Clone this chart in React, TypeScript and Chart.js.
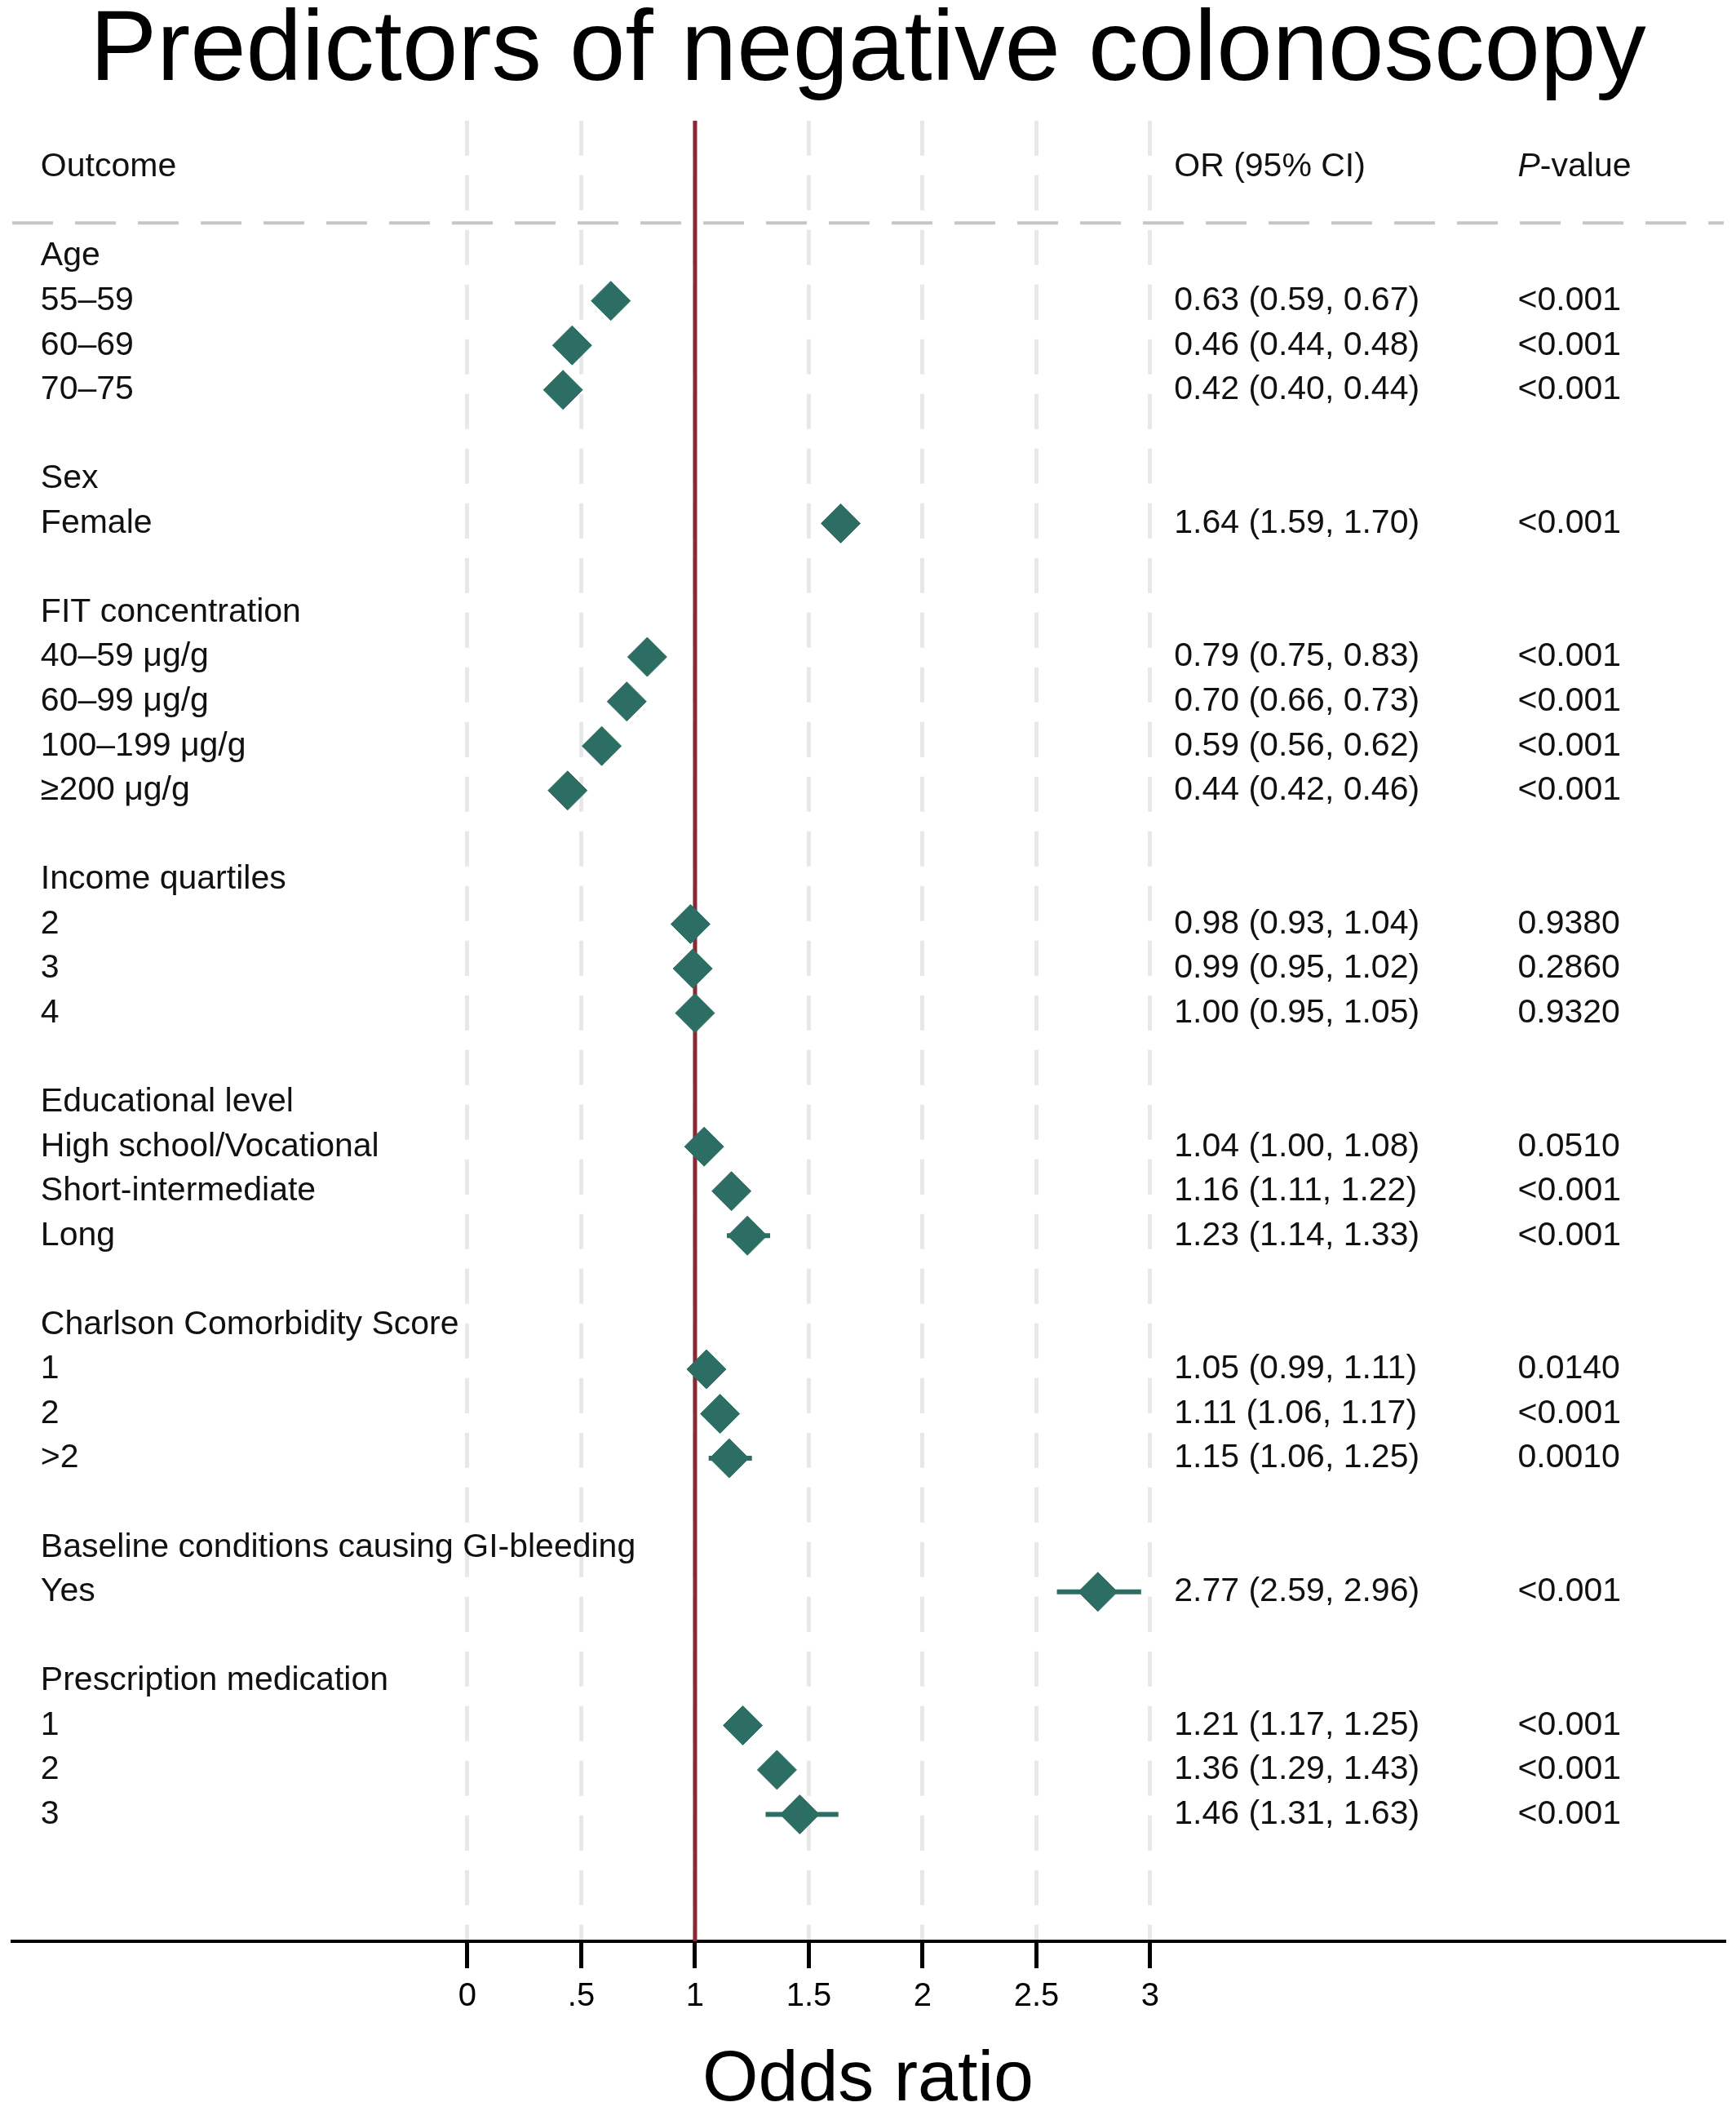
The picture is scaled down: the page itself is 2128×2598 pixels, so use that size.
import { useEffect, useRef } from 'react';
import { Chart, registerables } from 'chart.js';

Chart.register(...registerables);

// ---------- data ----------
const titleText = 'Predictors of negative colonoscopy';
const axisTitle = 'Odds ratio';
const xTicks = [0, 0.5, 1, 1.5, 2, 2.5, 3];
const xTickLabels = ['0', '.5', '1', '1.5', '2', '2.5', '3'];
const headerLabels = ['Outcome', 'OR (95% CI)', 'P-value'];
const referenceOR = 1;

const rowLabels = [
  'Age', '55–59', '60–69', '70–75', '',
  'Sex', 'Female', '',
  'FIT concentration', '40–59 μg/g', '60–99 μg/g', '100–199 μg/g', '≥200 μg/g', '',
  'Income quartiles', '2', '3', '4', '',
  'Educational level', 'High school/Vocational', 'Short-intermediate', 'Long', '',
  'Charlson Comorbidity Score', '1', '2', '>2', '',
  'Baseline conditions causing GI-bleeding', 'Yes', '',
  'Prescription medication', '1', '2', '3',
];
const oddsRatio = [
  null, 0.63, 0.46, 0.42, null,
  null, 1.64, null,
  null, 0.79, 0.70, 0.59, 0.44, null,
  null, 0.98, 0.99, 1.00, null,
  null, 1.04, 1.16, 1.23, null,
  null, 1.05, 1.11, 1.15, null,
  null, 2.77, null,
  null, 1.21, 1.36, 1.46,
];
const ciLower = [
  null, 0.59, 0.44, 0.40, null,
  null, 1.59, null,
  null, 0.75, 0.66, 0.56, 0.42, null,
  null, 0.93, 0.95, 0.95, null,
  null, 1.00, 1.11, 1.14, null,
  null, 0.99, 1.06, 1.06, null,
  null, 2.59, null,
  null, 1.17, 1.29, 1.31,
];
const ciUpper = [
  null, 0.67, 0.48, 0.44, null,
  null, 1.70, null,
  null, 0.83, 0.73, 0.62, 0.46, null,
  null, 1.04, 1.02, 1.05, null,
  null, 1.08, 1.22, 1.33, null,
  null, 1.11, 1.17, 1.25, null,
  null, 2.96, null,
  null, 1.25, 1.43, 1.63,
];
const pValues = [
  null, '<0.001', '<0.001', '<0.001', null,
  null, '<0.001', null,
  null, '<0.001', '<0.001', '<0.001', '<0.001', null,
  null, '0.9380', '0.2860', '0.9320', null,
  null, '0.0510', '<0.001', '<0.001', null,
  null, '0.0140', '<0.001', '0.0010', null,
  null, '<0.001', null,
  null, '<0.001', '<0.001', '<0.001',
];

// ---------- layout (not data) ----------
const FONT = '"Liberation Sans", Arial, Helvetica, sans-serif';
const X_MIN = -2;
const X_MAX = 5.52;
const Y_MIN = -1.05;
const Y_MAX = 39.85;
const HEADER_ROW = 0;
const DIVIDER_ROW = 1.25;
const FIRST_ROW = 2;
const COL_LABEL_X = -1.875;
const COL_OR_X = 3.105;
const COL_P_X = 4.615;
const TEAL = '#2C6E63';
const RED = '#8B2833';
const TEXT_SIZE = 41;

const fmt = (v: number) => v.toFixed(2);

const tablePlugin = {
  id: 'forestTable',
  afterDatasetsDraw(chart: any) {
    const { ctx } = chart;
    const x = chart.scales.x;
    const y = chart.scales.y;
    const normal = `${TEXT_SIZE}px ${FONT}`;
    ctx.save();
    ctx.fillStyle = '#111';
    ctx.textBaseline = 'middle';
    ctx.textAlign = 'left';
    ctx.font = normal;
    const hy = y.getPixelForValue(HEADER_ROW);
    ctx.fillText(headerLabels[0], x.getPixelForValue(COL_LABEL_X), hy);
    ctx.fillText(headerLabels[1], x.getPixelForValue(COL_OR_X), hy);
    const px = x.getPixelForValue(COL_P_X);
    const pHead = headerLabels[2];
    ctx.font = `italic ${TEXT_SIZE}px ${FONT}`;
    ctx.fillText(pHead.charAt(0), px, hy);
    const w = ctx.measureText(pHead.charAt(0)).width;
    ctx.font = normal;
    ctx.fillText(pHead.slice(1), px + w, hy);

    rowLabels.forEach((lab, i) => {
      const ry = y.getPixelForValue(FIRST_ROW + i);
      if (lab) ctx.fillText(lab, x.getPixelForValue(COL_LABEL_X), ry);
      const or = oddsRatio[i];
      const lo = ciLower[i];
      const hi = ciUpper[i];
      if (or !== null && lo !== null && hi !== null) {
        ctx.fillText(`${fmt(or)} (${fmt(lo)}, ${fmt(hi)})`, x.getPixelForValue(COL_OR_X), ry);
      }
      const p = pValues[i];
      if (p) ctx.fillText(p, px, ry);
    });
    ctx.restore();
  },
};

export default function App() {
  const canvasRef = useRef<HTMLCanvasElement | null>(null);

  useEffect(() => {
    if (!canvasRef.current) return;
    Chart.defaults.font.family = FONT;

    const points: { x: number; y: number }[] = [];
    const ciSets: any[] = [];
    oddsRatio.forEach((or, i) => {
      const lo = ciLower[i];
      const hi = ciUpper[i];
      if (or === null || lo === null || hi === null) return;
      points.push({ x: or, y: FIRST_ROW + i });
      ciSets.push({
        type: 'scatter',
        showLine: true,
        data: [
          { x: lo, y: FIRST_ROW + i },
          { x: hi, y: FIRST_ROW + i },
        ],
        borderColor: TEAL,
        borderWidth: 6,
        pointRadius: 0,
        order: 1,
      });
    });

    const chart = new Chart(canvasRef.current, {
      type: 'scatter',
      data: {
        datasets: [
          {
            type: 'scatter',
            data: points,
            pointStyle: 'rectRot',
            pointRadius: 24,
            pointBackgroundColor: TEAL,
            pointBorderColor: TEAL,
            pointBorderWidth: 1,
            order: 0,
          },
          ...ciSets,
          {
            type: 'scatter',
            showLine: true,
            data: [
              { x: referenceOR, y: Y_MIN },
              { x: referenceOR, y: Y_MAX },
            ],
            borderColor: RED,
            borderWidth: 5,
            pointRadius: 0,
            order: 2,
          },
          {
            type: 'scatter',
            showLine: true,
            data: [
              { x: X_MIN, y: DIVIDER_ROW },
              { x: X_MAX, y: DIVIDER_ROW },
            ],
            borderColor: '#c6c6c6',
            borderWidth: 4,
            borderDash: [50, 27],
            pointRadius: 0,
            order: 3,
          },
        ] as any,
      },
      options: {
        animation: false,
        responsive: true,
        maintainAspectRatio: false,
        layout: { autoPadding: false, padding: { left: 15, right: 15, top: 0, bottom: 0 } },
        plugins: {
          legend: { display: false },
          tooltip: { enabled: false },
          title: {
            display: true,
            text: titleText,
            color: '#000',
            font: { family: FONT, size: 123, weight: 'normal', lineHeight: 0.9 },
            padding: { top: 9, bottom: 28 },
          },
        },
        scales: {
          x: {
            type: 'linear',
            min: X_MIN,
            max: X_MAX,
            offset: false,
            afterBuildTicks: (axis: any) => {
              axis.ticks = xTicks.map((v) => ({ value: v }));
            },
            ticks: {
              color: '#000',
              font: { family: FONT, size: 40, lineHeight: 1.1 },
              padding: 13,
              autoSkip: false,
              maxRotation: 0,
              callback: (_v: any, idx: number) => xTickLabels[idx],
            },
            grid: {
              display: true,
              drawOnChartArea: true,
              drawTicks: true,
              color: '#e8e8e8',
              lineWidth: 5,
              tickLength: 33,
              tickColor: '#000',
              tickWidth: 5,
              tickBorderDash: [],
              offset: false,
            },
            border: { display: true, color: '#000', width: 4, dash: [43, 24] },
            title: {
              display: true,
              text: axisTitle,
              color: '#000',
              font: { family: FONT, size: 88, lineHeight: 1 },
              padding: { top: 24, bottom: 4 },
            },
          },
          y: {
            type: 'linear',
            min: Y_MIN,
            max: Y_MAX,
            reverse: true,
            display: false,
            offset: false,
          },
        },
      } as any,
      plugins: [tablePlugin],
    });
    return () => chart.destroy();
  }, []);

  return (
    <div style={{ position: 'absolute', left: 0, top: 0, width: 2128, height: 2598, background: '#fff' }}>
      <canvas ref={canvasRef} />
    </div>
  );
}
